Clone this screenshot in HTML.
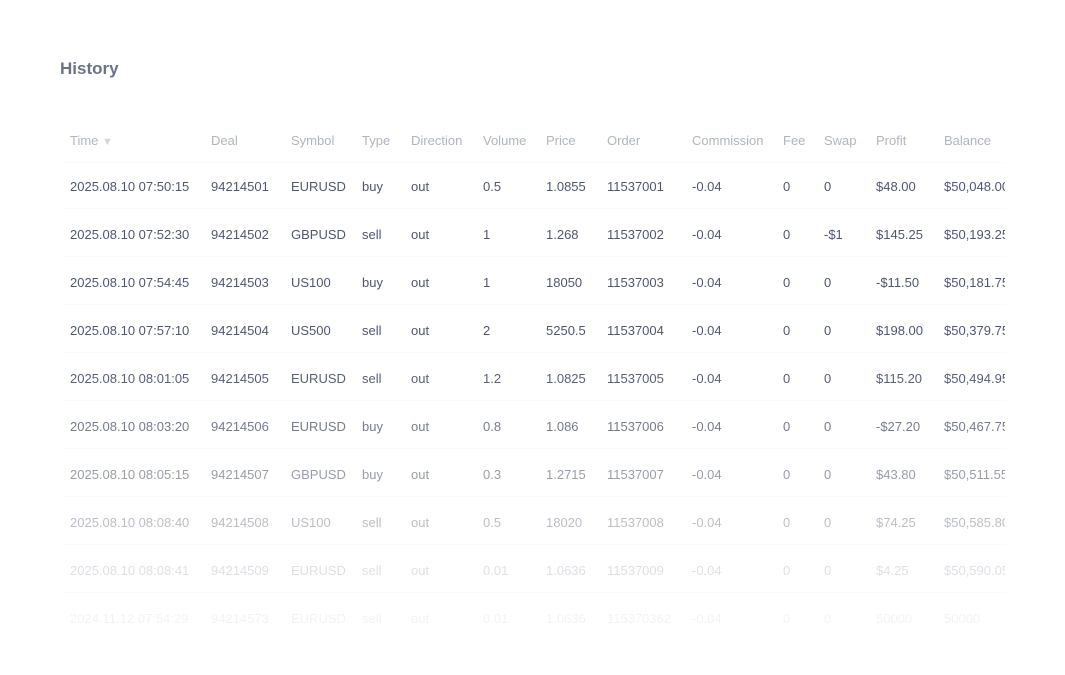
<!DOCTYPE html><html><head><style>
body{margin:0;width:1065px;height:675px;background:#fff;font-family:"Liberation Sans",sans-serif;position:relative;overflow:hidden}
.t{position:absolute;left:60px;top:59px;font-size:17px;font-weight:bold;color:#6b7389}
.clip{position:absolute;left:0;top:0;width:1005px;height:675px;overflow:hidden}
.r{position:absolute;left:0;width:1005px;height:20px;font-size:13px;color:#4f5673}
.r span{position:absolute;top:0;white-space:nowrap}
.h{color:#b0b5c3}
.line{position:absolute;left:60px;width:945px;height:1px;background:#fafbfc}
</style></head><body>
<div class="t">History</div>
<div class="clip" id="c"></div>
<script>
var xs=[70,211,291,362,411,483,546,607,692,783,824,876,944];
var rows=[["Time","Deal","Symbol","Type","Direction","Volume","Price","Order","Commission","Fee","Swap","Profit","Balance"],
["2025.08.10 07:50:15","94214501","EURUSD","buy","out","0.5","1.0855","11537001","-0.04","0","0","$48.00","$50,048.00"],
["2025.08.10 07:52:30","94214502","GBPUSD","sell","out","1","1.268","11537002","-0.04","0","-$1","$145.25","$50,193.25"],
["2025.08.10 07:54:45","94214503","US100","buy","out","1","18050","11537003","-0.04","0","0","-$11.50","$50,181.75"],
["2025.08.10 07:57:10","94214504","US500","sell","out","2","5250.5","11537004","-0.04","0","0","$198.00","$50,379.75"],
["2025.08.10 08:01:05","94214505","EURUSD","sell","out","1.2","1.0825","11537005","-0.04","0","0","$115.20","$50,494.95"],
["2025.08.10 08:03:20","94214506","EURUSD","buy","out","0.8","1.086","11537006","-0.04","0","0","-$27.20","$50,467.75"],
["2025.08.10 08:05:15","94214507","GBPUSD","buy","out","0.3","1.2715","11537007","-0.04","0","0","$43.80","$50,511.55"],
["2025.08.10 08:08:40","94214508","US100","sell","out","0.5","18020","11537008","-0.04","0","0","$74.25","$50,585.80"],
["2025.08.10 08:08:41","94214509","EURUSD","sell","out","0.01","1.0636","11537009","-0.04","0","0","$4.25","$50,590.05"],
["2024.11.12 07:54:29","94214573","EURUSD","sell","out","0.01","1.0636","115370362","-0.04","0","0","50000","50000"]];
var op=[1,1,1,1,1,0.95,0.78,0.58,0.38,0.18,0.07];
var c=document.getElementById('c'),h='';
rows.forEach(function(r,i){
 var y=(i==0?133:179+(i-1)*48);
 h+='<div class="r'+(i==0?' h':'')+'" style="top:'+y+'px;opacity:'+op[i]+'">';
 r.forEach(function(s,j){h+='<span style="left:'+xs[j]+'px">'+s+(i==0&&j==0?' <span style="position:static;font-size:11px;color:#d3d6de">&#9660;</span>':'')+'</span>';});
 h+='</div>';
 if(i<rows.length-1)h+='<div class="line" style="top:'+(y+29)+'px"></div>';
});
c.innerHTML=h;
</script>
</body></html>
